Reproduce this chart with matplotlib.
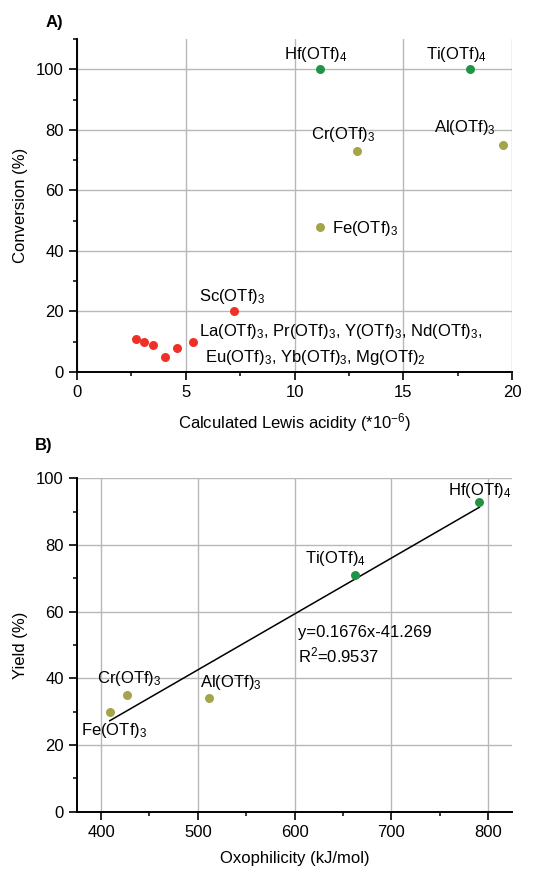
import matplotlib
matplotlib.use("Agg")
import matplotlib.pyplot as plt
from matplotlib.ticker import MultipleLocator
import numpy as np

plt.rcParams['font.family'] = ['Liberation Sans', 'DejaVu Sans']
plt.rcParams['mathtext.fontset'] = 'custom'
plt.rcParams['mathtext.rm'] = 'Liberation Sans'
plt.rcParams['mathtext.it'] = 'Liberation Sans:italic'
plt.rcParams['mathtext.bf'] = 'Liberation Sans:bold'

# ---- Panel A data ----
a_red_x = [2.70, 3.09, 3.51, 4.07, 4.58, 5.33, 7.24]
a_red_y = [11, 10, 9, 5, 8, 10, 20]
a_olive_x = [12.88, 19.58, 11.16]
a_olive_y = [73, 75, 48]
a_green_x = [11.16, 18.05]
a_green_y = [100, 100]

# ---- Panel B data ----
b_green_x = [791, 662]
b_green_y = [93, 71]
b_olive_x = [427, 409, 512]
b_olive_y = [35, 30, 34]
fit_slope = 0.1676
fit_intercept = -41.269
fit_x = [409, 791]

GREEN = '#1f9447'
OLIVE = '#a4a44a'
RED = '#ee3026'
GRID = '#b8b8b8'
FS = 12
MS = 42

fig = plt.figure(figsize=(5.49, 8.72), dpi=100)
axA = fig.add_axes([0.140, 0.5734, 0.793, 0.3819])
axB = fig.add_axes([0.140, 0.0692, 0.793, 0.3823])

def style(ax):
    for s in ['top', 'right']:
        ax.spines[s].set_visible(False)
    for s in ['left', 'bottom']:
        ax.spines[s].set_linewidth(1.4)
    ax.tick_params(which='major', direction='out', length=6, width=1.2, labelsize=FS)
    ax.tick_params(which='minor', direction='out', length=3, width=1.1)
    ax.grid(True, which='major', color=GRID, linewidth=1.0)
    ax.set_axisbelow(True)

# Panel A
style(axA)
axA.scatter(a_red_x, a_red_y, s=MS, color=RED, zorder=3, linewidths=0)
axA.scatter(a_olive_x, a_olive_y, s=MS, color=OLIVE, zorder=3, linewidths=0)
axA.scatter(a_green_x, a_green_y, s=MS, color=GREEN, zorder=3, linewidths=0)
axA.set_xlim(0, 20)
axA.set_ylim(0, 110)
axA.xaxis.set_major_locator(MultipleLocator(5))
axA.xaxis.set_minor_locator(MultipleLocator(2.5))
axA.yaxis.set_major_locator(MultipleLocator(20))
axA.yaxis.set_minor_locator(MultipleLocator(10))
axA.set_xlabel('Calculated Lewis acidity (*10$^{-6}$)', fontsize=FS, labelpad=8)
axA.set_ylabel('Conversion (%)', fontsize=FS, labelpad=6)

axA.text(11.0, 103.5, 'Hf(OTf)$_4$', ha='center', va='baseline', fontsize=FS)
axA.text(17.45, 103.5, 'Ti(OTf)$_4$', ha='center', va='baseline', fontsize=FS)
axA.text(12.25, 77, 'Cr(OTf)$_3$', ha='center', va='baseline', fontsize=FS)
axA.text(17.8, 79.4, 'Al(OTf)$_3$', ha='center', va='baseline', fontsize=FS)
axA.text(11.7, 46, 'Fe(OTf)$_3$', ha='left', va='baseline', fontsize=FS)
axA.text(7.15, 23.3, 'Sc(OTf)$_3$', ha='center', va='baseline', fontsize=FS)
axA.text(5.62, 11.8, 'La(OTf)$_3$, Pr(OTf)$_3$, Y(OTf)$_3$, Nd(OTf)$_3$,',
         ha='left', va='baseline', fontsize=FS)
axA.text(5.88, 3.3, 'Eu(OTf)$_3$, Yb(OTf)$_3$, Mg(OTf)$_2$',
         ha='left', va='baseline', fontsize=FS)

# Panel B
style(axB)
fx = np.array(fit_x, dtype=float)
axB.plot(fx, fit_slope * fx + fit_intercept, color='black', linewidth=1.1, zorder=2)
axB.scatter(b_olive_x, b_olive_y, s=MS, color=OLIVE, zorder=3, linewidths=0)
axB.scatter(b_green_x, b_green_y, s=MS, color=GREEN, zorder=3, linewidths=0)
axB.set_xlim(375, 825)
axB.set_ylim(0, 100)
axB.xaxis.set_major_locator(MultipleLocator(100))
axB.xaxis.set_minor_locator(MultipleLocator(50))
axB.yaxis.set_major_locator(MultipleLocator(20))
axB.yaxis.set_minor_locator(MultipleLocator(10))
axB.set_xlabel('Oxophilicity (kJ/mol)', fontsize=FS, labelpad=8)
axB.set_ylabel('Yield (%)', fontsize=FS, labelpad=6)

axB.text(792, 95, 'Hf(OTf)$_4$', ha='center', va='baseline', fontsize=FS)
axB.text(642, 74.5, 'Ti(OTf)$_4$', ha='center', va='baseline', fontsize=FS)
axB.text(428.7, 38.5, 'Cr(OTf)$_3$', ha='center', va='baseline', fontsize=FS)
axB.text(534, 37.3, 'Al(OTf)$_3$', ha='center', va='baseline', fontsize=FS)
axB.text(413, 23, 'Fe(OTf)$_3$', ha='center', va='baseline', fontsize=FS)
axB.text(603.6, 52.3, 'y=0.1676x-41.269', ha='left', va='baseline', fontsize=FS)
axB.text(603.6, 44.8, 'R$^2$=0.9537', ha='left', va='baseline', fontsize=FS)

fig.text(46 / 549, 1 - 23 / 872, 'A)', fontsize=FS, fontweight='bold', ha='left', va='center')
fig.text(35 / 549, 1 - 445 / 872, 'B)', fontsize=FS, fontweight='bold', ha='left', va='center')

fig.savefig('out.png', dpi=100)
